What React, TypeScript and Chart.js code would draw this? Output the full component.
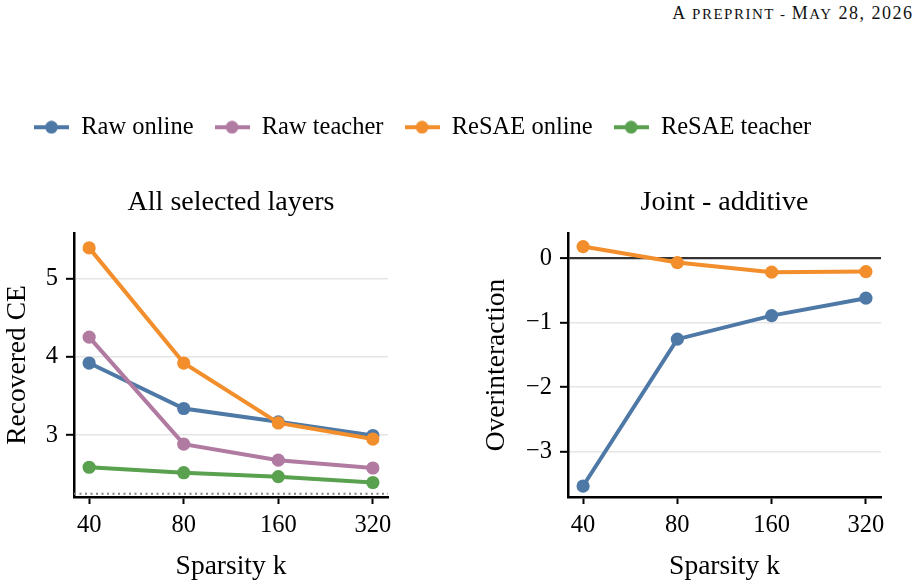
import React, { useEffect, useRef } from 'react';
import { Chart, registerables } from 'chart.js';

Chart.register(...registerables);

// ---- data ----
const SPARSITY = [40, 80, 160, 320];

const SERIES_NAMES = ['Raw online', 'Raw teacher', 'ReSAE online', 'ReSAE teacher'];
const SERIES_COLORS = ['#4e79a7', '#b07aa1', '#f28e2b', '#59a14f'];

// Recovered CE, all selected layers
const RAW_ONLINE_CE = [3.92, 3.34, 3.17, 2.995];
const RAW_TEACHER_CE = [4.25, 2.885, 2.68, 2.58];
const RESAE_ONLINE_CE = [5.39, 3.92, 3.155, 2.95];
const RESAE_TEACHER_CE = [2.59, 2.52, 2.47, 2.395];
const CE_FLOOR = 2.25;
const CE_TICKS = [3, 4, 5];
const CE_RANGE = [2.21, 5.58];

// Overinteraction (joint - additive)
const RAW_ONLINE_OI = [-3.53, -1.255, -0.89, -0.62];
const RESAE_ONLINE_OI = [0.18, -0.068, -0.217, -0.208];
const OI_TICKS = [-3, -2, -1, 0];
const OI_RANGE = [-3.7, 0.39];

const FONT = "'Liberation Serif', 'Times New Roman', Times, serif";
const TICK_FONT = { family: FONT, size: 24.5 };
const LABEL_FONT = { family: FONT, size: 27.5 };
const TITLE_SIZE = 28;

const fmtNum = (v: number) => (v < 0 ? '\u2212' + Math.abs(v) : String(v));

// horizontal reference line drawn under the series
const refLinePlugin = {
  id: 'refLine',
  beforeDatasetsDraw(chart: any, _args: any, opts: any) {
    if (opts == null || opts.value == null) return;
    const { ctx, chartArea, scales } = chart;
    const y = scales.y.getPixelForValue(opts.value);
    ctx.save();
    ctx.strokeStyle = opts.color;
    ctx.lineWidth = opts.width;
    ctx.setLineDash(opts.dash);
    ctx.beginPath();
    ctx.moveTo(chartArea.left, y);
    ctx.lineTo(chartArea.right, y);
    ctx.stroke();
    ctx.restore();
  },
};

// panel title centred over the plotting area
const panelTitlePlugin = {
  id: 'panelTitle',
  afterDraw(chart: any, _args: any, opts: any) {
    if (!opts || !opts.text) return;
    const { ctx, chartArea } = chart;
    ctx.save();
    ctx.font = `${TITLE_SIZE}px ${FONT}`;
    ctx.fillStyle = '#000';
    ctx.textAlign = 'center';
    ctx.textBaseline = 'alphabetic';
    ctx.fillText(opts.text, (chartArea.left + chartArea.right) / 2, opts.baseline);
    ctx.restore();
  },
};

function lineDataset(label: string, color: string, values: number[], order: number) {
  return {
    label,
    data: values.map((y, i) => ({ x: i, y })),
    borderColor: color,
    backgroundColor: color,
    borderWidth: 4,
    pointRadius: 6.6,
    pointHoverRadius: 6.6,
    pointBorderWidth: 0,
    pointBackgroundColor: color,
    tension: 0,
    clip: false as const,
    order,
  };
}

interface PanelOpts {
  title: string;
  yLabel: string;
  range: number[];
  yTicks: number[];
  yAxisWidth: number;
  padRight: number;
  yTitlePad: number;
  refLine?: any;
}

function panelOptions(p: PanelOpts) {
  return {
    responsive: false,
    animation: false as const,
    events: [],
    devicePixelRatio: 1,
    layout: { padding: { left: 0, right: p.padRight, top: 63, bottom: 0 } },
    plugins: {
      legend: { display: false },
      tooltip: { enabled: false },
      title: { display: false },
      panelTitle: { text: p.title, baseline: 40 },
      refLine: p.refLine || {},
    },
    scales: {
      x: {
        type: 'linear' as const,
        min: -0.16,
        max: 3.16,
        afterBuildTicks: (s: any) => {
          s.ticks = SPARSITY.map((_, i) => ({ value: i }));
        },
        afterFit: (s: any) => {
          s.height = 89;
          s.paddingLeft = 0;
          s.paddingRight = 0;
        },
        ticks: {
          callback: (v: any) => String(SPARSITY[v] ?? ''),
          font: TICK_FONT,
          color: '#000',
          padding: 7,
          maxRotation: 0,
          autoSkip: false,
        },
        grid: {
          drawOnChartArea: false,
          drawTicks: true,
          tickLength: 7,
          tickColor: '#000',
          tickWidth: 2,
        },
        border: { display: true, color: '#000', width: 2.5 },
        title: {
          display: true,
          text: 'Sparsity k',
          font: LABEL_FONT,
          color: '#000',
          padding: { top: 0, bottom: 2.5 },
        },
      },
      y: {
        type: 'linear' as const,
        min: p.range[0],
        max: p.range[1],
        afterBuildTicks: (s: any) => {
          s.ticks = p.yTicks.map((v) => ({ value: v }));
        },
        afterFit: (s: any) => {
          s.width = p.yAxisWidth;
          s.paddingTop = 0;
          s.paddingBottom = 0;
        },
        ticks: {
          callback: (v: any) => fmtNum(v),
          font: TICK_FONT,
          color: '#000',
          padding: 8,
        },
        grid: {
          color: (c: any) => (c.tick && c.tick.value === 0 ? '#333333' : '#e5e5e5'),
          lineWidth: (c: any) => (c.tick && c.tick.value === 0 ? 2.2 : 1.6),
          drawTicks: true,
          tickLength: 8,
          tickColor: '#000',
          tickWidth: 2,
        },
        border: { display: true, color: '#000', width: 2.5 },
        title: {
          display: true,
          text: p.yLabel,
          font: LABEL_FONT,
          color: '#000',
          padding: { top: p.yTitlePad, bottom: 0 },
        },
      },
    },
  };
}

function legendGlyph(color: string) {
  const c = document.createElement('canvas');
  c.width = 35;
  c.height = 14;
  const g = c.getContext('2d')!;
  g.strokeStyle = color;
  g.lineWidth = 4;
  g.beginPath();
  g.moveTo(0, 7);
  g.lineTo(35, 7);
  g.stroke();
  g.fillStyle = color;
  g.beginPath();
  g.arc(17.5, 7, 6.4, 0, Math.PI * 2);
  g.fill();
  return c;
}

function ChartCanvas({ left, top, width, height, build }: any) {
  const ref = useRef<HTMLCanvasElement | null>(null);
  useEffect(() => {
    const chart = new Chart(ref.current as HTMLCanvasElement, build());
    return () => chart.destroy();
  }, []);
  return (
    <canvas
      ref={ref}
      width={width}
      height={height}
      style={{ position: 'absolute', left, top, width, height }}
    />
  );
}

const buildLegend = () => ({
  type: 'line' as const,
  data: {
    datasets: SERIES_NAMES.map((name, i) => ({
      label: name,
      data: [],
      borderColor: SERIES_COLORS[i],
      backgroundColor: SERIES_COLORS[i],
    })),
  },
  options: {
    responsive: false,
    animation: false as const,
    events: [],
    devicePixelRatio: 1,
    layout: { padding: { left: 13, top: 0 } },
    scales: { x: { display: false }, y: { display: false } },
    plugins: {
      tooltip: { enabled: false },
      legend: {
        display: true,
        position: 'top' as const,
        align: 'start' as const,
        maxHeight: 80,
        labels: {
          usePointStyle: true,
          pointStyleWidth: 35,
          padding: 21,
          font: TICK_FONT,
          color: '#000',
          generateLabels: (chart: any) =>
            chart.data.datasets.map((ds: any, i: number) => ({
              text: ds.label,
              pointStyle: legendGlyph(ds.borderColor),
              fillStyle: ds.borderColor,
              strokeStyle: ds.borderColor,
              lineWidth: 0,
              hidden: false,
              datasetIndex: i,
            })),
        },
      },
    },
  },
});

const buildLeft = () => ({
  type: 'line' as const,
  data: {
    datasets: [
      lineDataset(SERIES_NAMES[0], SERIES_COLORS[0], RAW_ONLINE_CE, 3),
      lineDataset(SERIES_NAMES[1], SERIES_COLORS[1], RAW_TEACHER_CE, 2),
      lineDataset(SERIES_NAMES[2], SERIES_COLORS[2], RESAE_ONLINE_CE, 1),
      lineDataset(SERIES_NAMES[3], SERIES_COLORS[3], RESAE_TEACHER_CE, 0),
    ],
  },
  options: panelOptions({
    title: 'All selected layers',
    yLabel: 'Recovered CE',
    range: CE_RANGE,
    yTicks: CE_TICKS,
    yAxisWidth: 74,
    padRight: 12,
    yTitlePad: 0.9,
    refLine: { value: CE_FLOOR, color: '#808080', width: 2, dash: [2, 3.5] },
  }),
  plugins: [refLinePlugin, panelTitlePlugin],
});

const buildRight = () => ({
  type: 'line' as const,
  data: {
    datasets: [
      lineDataset(SERIES_NAMES[0], SERIES_COLORS[0], RAW_ONLINE_OI, 1),
      lineDataset(SERIES_NAMES[2], SERIES_COLORS[2], RESAE_ONLINE_OI, 0),
    ],
  },
  options: panelOptions({
    title: 'Joint - additive',
    yLabel: 'Overinteraction',
    range: OI_RANGE,
    yTicks: OI_TICKS,
    yAxisWidth: 108,
    padRight: 37,
    yTitlePad: 20.2,
  }),
  plugins: [refLinePlugin, panelTitlePlugin],
});

export default function App() {
  return (
    <div
      style={{
        position: 'absolute',
        left: 0,
        top: 0,
        width: 918,
        height: 586,
        overflow: 'hidden',
        background: '#fff',
      }}
    >
      <div
        style={{
          position: 'absolute',
          right: 4.5,
          top: 4,
          fontFamily: FONT,
          fontSize: 18,
          lineHeight: '18px',
          letterSpacing: '1.5px',
          color: '#111',
          whiteSpace: 'nowrap',
        }}
      >
        A<span style={{ fontSize: 15 }}> PREPRINT - </span>M<span style={{ fontSize: 15 }}>AY</span> 28, 2026
      </div>
      <ChartCanvas left={0} top={94} width={918} height={70} build={buildLegend} />
      <ChartCanvas left={0} top={170} width={400} height={416} build={buildLeft} />
      <ChartCanvas left={460} top={170} width={458} height={416} build={buildRight} />
    </div>
  );
}
